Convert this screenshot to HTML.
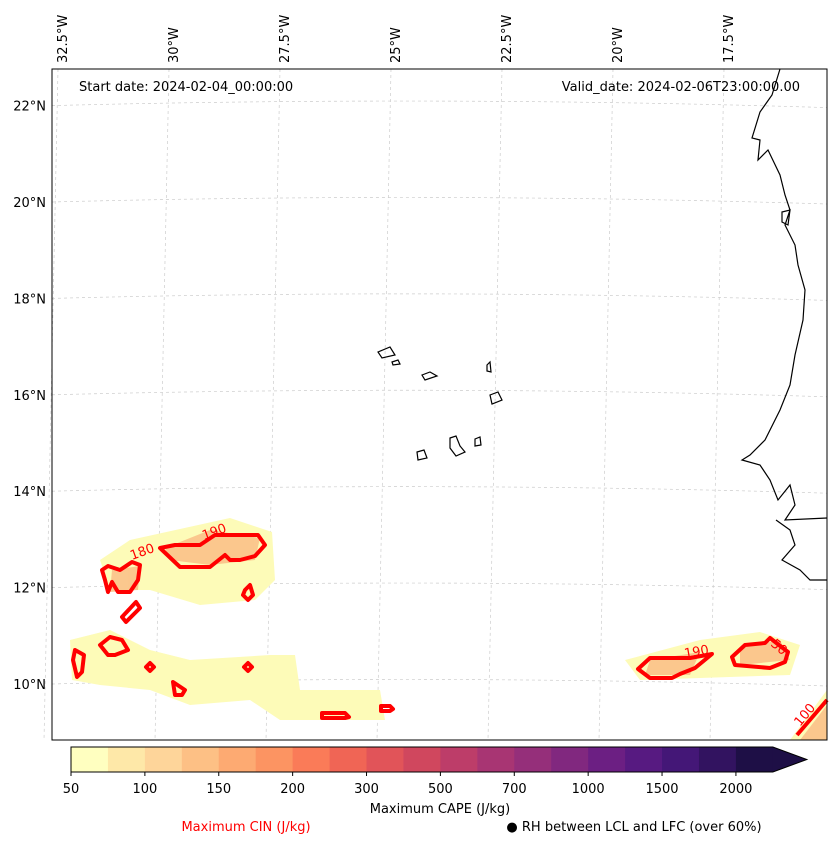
<!DOCTYPE html>
<html><head><meta charset="utf-8"><style>
body{margin:0;background:#fff;font-family:"DejaVu Sans","Liberation Sans",sans-serif}
svg text{font-family:"DejaVu Sans","Liberation Sans",sans-serif}
</style></head><body>
<svg id="chart" width="837" height="845" viewBox="0 0 837 845" xmlns="http://www.w3.org/2000/svg">
<rect width="837" height="845" fill="#fff"/>
<g id="grid" stroke="#ccc" stroke-width="0.7" stroke-dasharray="3,3" fill="none"></g>
<g id="fields">
 <g fill="#fdfbb8">
  <path d="M100,560 L130,540 L230,518 L272,532 L275,580 L255,600 L200,605 L150,590 L110,590Z"/>
  <path d="M70,640 L110,630 L150,650 L190,660 L270,655 L295,655 L300,690 L380,690 L385,720 L280,720 L250,700 L190,705 L150,690 L100,685 L72,680Z"/>
  <path d="M625,660 L700,640 L760,632 L800,645 L790,675 L700,678 L640,680Z"/>
  <path d="M790,740 L827,690 L827,740Z"/>
 </g>
 <g fill="#fbc289" opacity="0.9">
  <path d="M165,548 L210,530 L260,538 L255,560 L210,565 L170,560Z"/>
  <path d="M112,570 L140,566 L138,590 L110,592Z"/>
  <path d="M650,660 L700,652 L690,675 L645,675Z"/>
  <path d="M740,648 L780,640 L790,660 L740,665Z"/>
  <path d="M800,740 L827,705 L827,740Z"/>
 </g>
</g>
<g id="cin" fill="none" stroke="#ff0000" stroke-width="4" stroke-linejoin="round">
 <path d="M160,548 L175,545 L200,545 L215,535 L235,535 L258,535 L265,545 L255,556 L240,560 L230,560 L225,555 L210,567 L180,567Z"/>
 <path d="M102,570 L108,566 L120,570 L132,562 L140,565 L138,580 L130,592 L118,592 L112,582 L108,592 L105,580Z"/>
 <path d="M245,590 L250,585 L253,595 L248,600 L243,595Z"/>
 <path d="M122,617 L136,602 L140,608 L126,622Z"/>
 <path d="M100,645 L110,637 L122,640 L128,650 L115,655 L108,655Z"/>
 <path d="M75,650 L84,655 L82,672 L77,677 L73,660Z"/>
 <path d="M146,667 L150,663 L154,667 L150,671Z"/>
 <path d="M244,667 L248,663 L252,667 L248,671Z"/>
 <path d="M173,682 L185,690 L182,695 L175,695Z"/>
 <path d="M322,713 L345,713 L349,717 L345,718 L322,718Z"/>
 <path d="M381,706 L390,706 L393,709 L390,711 L381,711Z"/>
 <path d="M638,669 L650,658 L690,658 L712,654 L695,668 L680,674 L672,678 L650,678Z"/>
 <path d="M732,657 L745,645 L765,643 L770,638 L788,652 L785,662 L770,668 L735,665Z"/>
 <path d="M797,735 L827,700"/>
</g>
<g fill="#ff0000" font-size="13">
 <text x="204" y="540" transform="rotate(-20 204 540)">190</text>
 <text x="132" y="560" transform="rotate(-20 132 560)">180</text>
 <text x="685" y="658" transform="rotate(-10 685 658)">190</text>
 <text x="770" y="645" transform="rotate(40 770 645)">50</text>
 <text x="800" y="727" transform="rotate(-50 800 727)">100</text>
</g>
<g id="coast" fill="none" stroke="#000" stroke-width="1.2">
 <path d="M780,69 L772,95 L760,112 L752,138 L760,140 L758,160 L768,150 L780,175 L785,195 L790,210 L785,225 L795,245 L798,265 L805,290 L803,320 L795,355 L790,385 L780,410 L765,440 L750,455 L742,460 L760,465 L770,480 L778,500 L790,485 L795,505 L785,520 L827,518"/>
 <path d="M776,520 L790,530 L795,545 L782,560 L800,570 L810,580 L827,580"/>
 <path d="M378,352 L390,347 L395,355 L382,358Z"/>
 <path d="M392,362 L398,360 L400,364 L393,365Z"/>
 <path d="M422,375 L430,372 L437,376 L425,380Z"/>
 <path d="M487,365 L490,362 L491,372 L487,371Z"/>
 <path d="M490,395 L498,392 L502,400 L492,404Z"/>
 <path d="M450,438 L456,436 L460,446 L465,452 L456,456 L450,448Z"/>
 <path d="M475,439 L480,437 L481,445 L475,446Z"/>
 <path d="M417,452 L424,450 L427,458 L418,460Z"/>
 <path d="M782,212 L790,210 L788,225 L782,222Z"/>
</g>
<rect x="52" y="69" width="775" height="671" fill="none" stroke="#000" stroke-width="1"/>
<text x="79" y="91" font-size="13">Start date: 2024-02-04_00:00:00</text>
<text x="800" y="91" font-size="13" text-anchor="end">Valid_date: 2024-02-06T23:00:00.00</text>
<g id="latlabels" font-size="13" text-anchor="end"></g>
<g id="lonlabels" font-size="13"></g>
<g id="cbar"></g>
<text x="440" y="813" font-size="13" text-anchor="middle">Maximum CAPE (J/kg)</text>
<text x="246" y="831" font-size="13" fill="#ff0000" text-anchor="middle">Maximum CIN (J/kg)</text>
<text x="634" y="831" font-size="13" text-anchor="middle">● RH between LCL and LFC (over 60%)</text>
</svg>
<script>
const latTicks=[22,20,18,16,14,12,10];
const lonTicks=[-32.5,-30,-27.5,-25,-22.5,-20,-17.5];
const cbarLevels=["50","75","100","125","150","175","200","250","300","400","500","600","700","800","1000","1250","1500","1750","2000"];
const cbarColors=["#ffffc0","#fee8a8","#fed59a","#fdc085","#fdaa72","#fc9462","#fa7b58","#f06555","#e15459","#d0475e","#bd3d69","#a83573","#952f7a","#81287f","#6c1f83","#571a81","#441777","#321360","#1e0f46"];
const cbarLabelIdx=[0,2,4,6,8,10,12,14,16,18];
const NS="http://www.w3.org/2000/svg";
const yLat=v=>684-(v-10)*48.2;
const xLon=v=>62+(v+32.5)*44.4;
const grid=document.getElementById('grid');
latTicks.forEach(v=>{const l=document.createElementNS(NS,'path');


const y=yLat(v);l.setAttribute('d',`M52,${y} Q440,${y-10} 827,${y+2}`);grid.appendChild(l);
const t=document.createElementNS(NS,'text');


t.setAttribute('x',46);t.setAttribute('y',y+5);t.textContent=v+'°N';document.getElementById('latlabels').appendChild(t);});
lonTicks.forEach(v=>{const x=xLon(v);const l=document.createElementNS(NS,'path');


l.setAttribute('d',`M${x-4},69 L${x-18},740`);grid.appendChild(l);
const t=document.createElementNS(NS,'text');


t.setAttribute('transform',`translate(${x+5},63) rotate(-90)`);t.textContent=Math.abs(v)+'°W';document.getElementById('lonlabels').appendChild(t);});
const cb=document.getElementById('cbar');const w=36.94,x0=71,y0=747,h=25;
cbarColors.forEach((c,i)=>{const r=document.createElementNS(NS,'rect');


r.setAttribute('x',x0+i*w);r.setAttribute('y',y0);r.setAttribute('width',w+0.5);r.setAttribute('height',h);r.setAttribute('fill',c);cb.appendChild(r);});
const xe=x0+cbarColors.length*w;
const tri=document.createElementNS(NS,'path');


tri.setAttribute('d',`M${xe},${y0} L${xe+34},${y0+h/2} L${xe},${y0+h}Z`);tri.setAttribute('fill','#1e0f46');cb.appendChild(tri);
const ol=document.createElementNS(NS,'path');


ol.setAttribute('d',`M${x0},${y0} L${xe},${y0} L${xe+34},${y0+h/2} L${xe},${y0+h} L${x0},${y0+h}Z`);ol.setAttribute('fill','none');ol.setAttribute('stroke','#000');cb.appendChild(ol);
cbarLabelIdx.forEach(i=>{const x=x0+i*w;const t=document.createElementNS(NS,'text');


t.setAttribute('x',x);t.setAttribute('y',y0+h+21);t.setAttribute('font-size','13');t.setAttribute('text-anchor','middle');t.textContent=cbarLevels[i];cb.appendChild(t);
const k=document.createElementNS(NS,'line');


k.setAttribute('x1',x);k.setAttribute('x2',x);k.setAttribute('y1',y0+h);k.setAttribute('y2',y0+h+4);k.setAttribute('stroke','#000');cb.appendChild(k);});
</script>
</body></html>
